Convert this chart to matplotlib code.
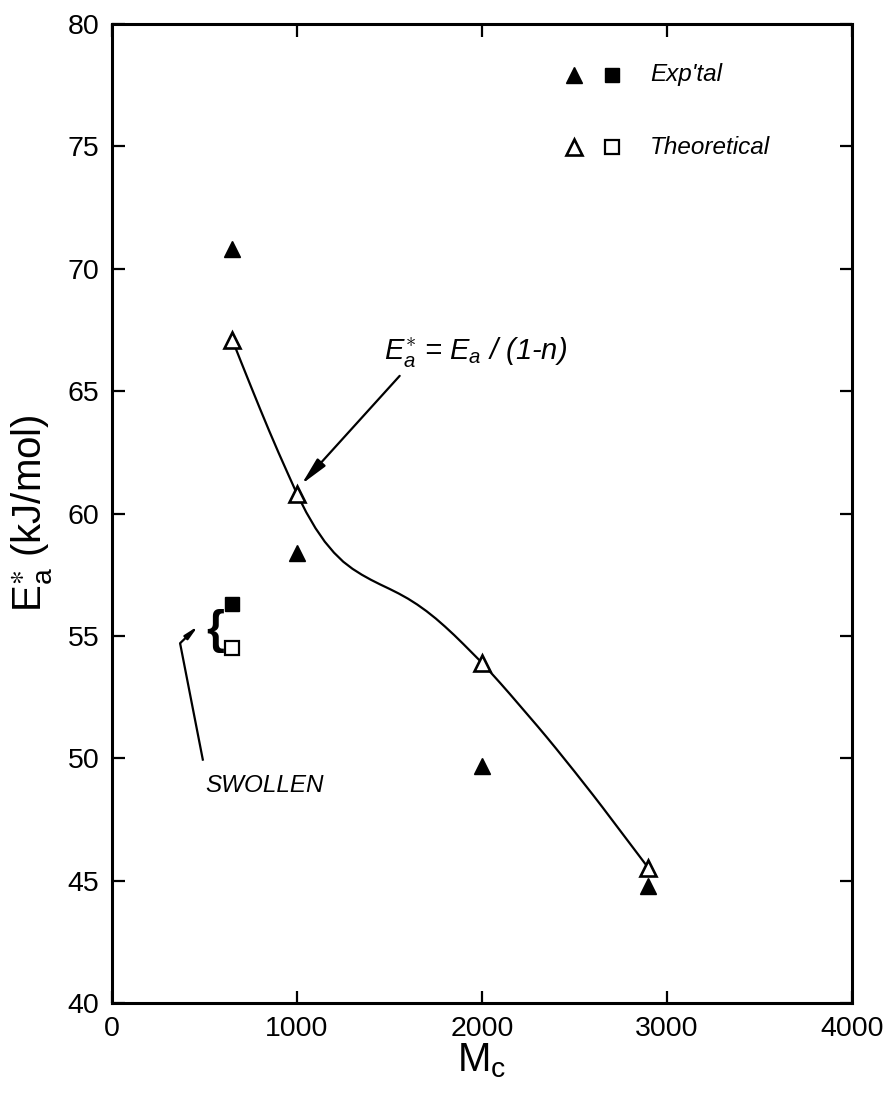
import matplotlib
matplotlib.use("Agg")
import matplotlib.pyplot as plt

plt.rcParams['font.family'] = ['Liberation Sans', 'DejaVu Sans']
plt.rcParams['mathtext.fontset'] = 'custom'
plt.rcParams['mathtext.rm'] = 'Liberation Sans'
plt.rcParams['mathtext.it'] = 'Liberation Sans:italic'
plt.rcParams['mathtext.bf'] = 'Liberation Sans:bold'

# ---- data ----
mc_exp = [650, 1000, 2000, 2900]
ea_exp = [70.8, 58.4, 49.7, 44.8]
mc_theo = [650, 1000, 2000, 2900]
ea_theo = [67.1, 60.8, 53.9, 45.5]
mc_swollen = [650]
ea_swollen_exp = [56.3]
ea_swollen_theo = [54.5]
# smooth curve through theoretical values
mc_curve = [650, 700, 750, 800, 850, 900, 950, 1000, 1050, 1100, 1150, 1200, 1250,
            1300, 1350, 1400, 1450, 1500, 1550, 1600, 1650, 1700, 1750, 1800, 1850,
            1900, 1950, 2000, 2050, 2100, 2150, 2200, 2250, 2300, 2350, 2400, 2450,
            2500, 2550, 2600, 2650, 2700, 2750, 2800, 2850, 2900]
ea_curve = [67.10, 66.15, 65.21, 64.28, 63.37, 62.49, 61.64, 60.80, 60.05, 59.40,
            58.85, 58.40, 58.03, 57.74, 57.50, 57.29, 57.10, 56.92, 56.73, 56.52,
            56.28, 56.01, 55.71, 55.38, 55.03, 54.66, 54.28, 53.90, 53.48, 53.06,
            52.63, 52.19, 51.75, 51.31, 50.86, 50.40, 49.93, 49.46, 48.98, 48.50,
            48.01, 47.51, 47.01, 46.51, 46.01, 45.51]
xticks = [0, 1000, 2000, 3000, 4000]
yticks = [40, 45, 50, 55, 60, 65, 70, 75, 80]

fig = plt.figure(figsize=(8.87, 10.94), dpi=100)
ax = fig.add_axes([112/887, 1 - 1003/1094, 740/887, 979/1094])

ax.plot(mc_curve, ea_curve, color='black', lw=1.6, zorder=2, solid_joinstyle='round')
ax.plot(mc_exp, ea_exp, linestyle='none', marker='^', ms=12, mfc='black', mec='black', zorder=3)
ax.plot(mc_theo, ea_theo, linestyle='none', marker='^', ms=12, mfc='white', mec='black', mew=1.9, zorder=3)
ax.plot(mc_swollen, ea_swollen_exp, linestyle='none', marker='s', ms=10.5, mfc='black', mec='black', zorder=3)
ax.plot(mc_swollen, ea_swollen_theo, linestyle='none', marker='s', ms=10, mfc='white', mec='black', mew=1.6, zorder=3)

ax.set_xlim(0, 4000)
ax.set_ylim(40, 80)
ax.set_xticks(xticks)
ax.set_yticks(yticks)
ax.tick_params(direction='in', length=9, width=1.6, top=True, right=True,
               labelsize=20.5, pad=9)
for s in ax.spines.values():
    s.set_linewidth(2.2)

ax.set_xlabel(r'$\mathregular{M_c}$', fontsize=29, labelpad=0)
ax.set_ylabel(r'$\mathregular{E_a^{\ast}}$ (kJ/mol)', fontsize=29, labelpad=10)

# legend (manual)
tr = ax.transAxes
ax.plot([0.624], [0.948], transform=tr, marker='^', ms=12, mfc='black', mec='black', ls='none', clip_on=False)
ax.plot([0.676], [0.948], transform=tr, marker='s', ms=10.5, mfc='black', mec='black', ls='none', clip_on=False)
ax.text(0.727, 0.948, "Exp'tal", transform=tr, fontsize=17.5, style='italic', va='center', ha='left')
ax.plot([0.624], [0.874], transform=tr, marker='^', ms=12, mfc='white', mec='black', mew=1.9, ls='none', clip_on=False)
ax.plot([0.676], [0.874], transform=tr, marker='s', ms=10, mfc='white', mec='black', mew=1.6, ls='none', clip_on=False)
ax.text(0.727, 0.874, "Theoretical", transform=tr, fontsize=17.5, style='italic', va='center', ha='left')

# annotation E_a*
ax.annotate(r'$\mathit{E_a^{\ast}}$ = $\mathit{E_a}$ / (1-n)', xy=(1025, 61.2), xytext=(1470, 66.6),
            fontsize=21, style='italic', va='center', ha='left',
            arrowprops=dict(arrowstyle='-|>,head_length=0.8,head_width=0.16', color='black', lw=1.6,
                            shrinkA=4, shrinkB=0, relpos=(0.12, 0.0)))

# swollen brace and arrow
ax.text(557, 55.2, '{', fontsize=33, ha='center', va='center', fontweight='bold')
ax.plot([492, 368], [49.9, 54.7], color='black', lw=1.6, solid_capstyle='butt')
ax.annotate('', xy=(465, 55.4), xytext=(368, 54.7),
            arrowprops=dict(arrowstyle='-|>,head_length=0.8,head_width=0.16', color='black', lw=1.6,
                            shrinkA=0, shrinkB=0))
ax.text(827, 48.9, 'SWOLLEN', fontsize=17.5, style='italic', ha='center', va='center')

fig.savefig('out.png', dpi=100)
